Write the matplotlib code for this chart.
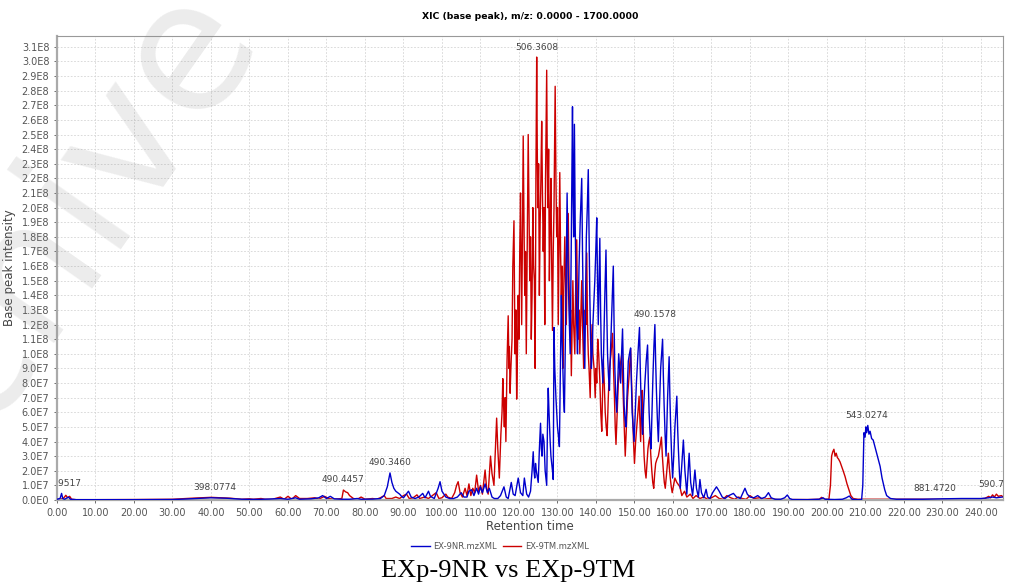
import matplotlib
matplotlib.use("Agg")
import matplotlib.pyplot as plt
from matplotlib.ticker import MultipleLocator, FuncFormatter

# retention time (min) / base peak intensity (x1e7)
nr_time = [0, 0.8, 1.2, 1.5, 2.0, 3.0, 3.5, 5, 10, 20, 30, 33, 36, 40, 44, 48, 52, 55, 58, 60,
           62, 63, 66, 68, 69, 70, 71, 72, 74, 76, 78, 79, 82, 84, 85, 85.8, 86.5, 87, 87.5, 88,
           88.5, 89, 89.5, 90, 91.3, 92, 93, 94, 95, 95.6, 96.5, 97, 98, 99, 99.5, 100, 100.5, 101, 102, 103,
           104, 105, 105.7, 106.5, 107, 107.7, 108.3, 109, 109.5, 110, 110.5, 111.2, 111.8, 112.3, 113, 113.6,
           114.5, 115.2, 116.1, 116.7, 117.2, 118, 118.5, 119, 119.8, 120.4, 121, 121.4, 122, 122.5,
           123.0, 123.4, 123.7, 123.9, 124.1, 124.3, 124.5, 124.8, 125.0, 125.3, 125.6, 125.8, 126.0,
           126.2, 126.5, 126.8, 127.0, 127.2, 127.4, 127.6, 127.8, 128.1, 128.3, 128.5, 128.7, 128.9,
           129.1, 129.3, 129.6, 129.8, 130.0, 130.2, 130.5, 130.7, 131.0, 131.2, 131.4, 131.6, 131.8,
           132.1, 132.5, 132.7, 132.9, 133.1, 133.3, 133.6, 133.9, 134.05, 134.2, 134.4, 134.6, 134.8,
           135.0, 135.2, 135.4, 135.6, 135.9, 136.3, 136.5, 136.7, 136.9, 137.1, 137.3, 137.5, 137.75,
           138.0, 138.2, 138.4, 138.6, 138.8, 139.0, 139.2, 139.45, 139.7, 139.95, 140.2, 140.4, 140.6,
           140.8, 141.0, 141.2, 141.4, 141.6, 141.8, 142.05, 142.3, 142.6, 142.8, 143.0, 143.25, 143.5,
           143.75, 144.0, 144.25, 144.5, 144.7, 144.9, 145.15, 145.4, 145.65, 145.9, 146.15, 146.4,
           146.65, 146.9, 147.1, 147.3, 147.55, 147.8, 148.1, 148.4, 148.7, 149.0, 149.2, 149.4, 149.65,
           149.9, 150.2, 150.5, 150.9, 151.3, 151.5, 151.7, 151.9, 152.1, 152.4, 152.7, 153.05, 153.4,
           153.6, 153.8, 154.05, 154.3, 154.55, 154.8, 155.05, 155.3, 155.5, 155.7, 155.95, 156.2, 156.5,
           156.8, 157.05, 157.3, 157.5, 157.7, 157.95, 158.2, 158.4, 158.6, 158.8, 159.0, 159.2, 159.4,
           159.65, 159.9, 160.2, 160.5, 160.75, 161.0, 161.2, 161.4, 161.65, 161.9, 162.3,
           162.7, 163.1, 163.6, 164.2, 164.6, 165.1, 165.7, 166.1, 166.6, 167.0, 167.4, 168.0, 168.6, 169.0,
           169.6, 170.3, 171.3, 172.0, 172.8, 173.5, 174.5, 175.7, 176.5, 177.5, 178.2, 178.7, 179.3, 180,
           181, 182, 183, 184, 184.8, 185.5, 186.5, 188, 189, 189.7, 190.3, 191, 195, 198, 199, 199.5, 202,
           204, 205, 205.8, 206.5, 208, 209, 209.3, 209.6, 209.9, 210.1, 210.3, 210.6, 210.9, 211.2, 211.6,
           212, 212.4, 212.8, 213.3, 213.8, 214.3, 215, 215.5, 216.5, 218, 225, 230, 235, 240, 242, 243,
           244, 245.5]
nr_int = [0.05, 0.1, 0.45, 0.1, 0.05, 0.2, 0.05, 0.02, 0.02, 0.02, 0.03, 0.06, 0.1, 0.15, 0.12, 0.05,
          0.04, 0.06, 0.1, 0.05, 0.15, 0.05, 0.08, 0.15, 0.3, 0.1, 0.25, 0.08, 0.05, 0.05, 0.1, 0.05,
          0.06, 0.1, 0.3, 0.9, 1.85, 1.2, 0.8, 0.6, 0.5, 0.4, 0.25, 0.15, 0.6, 0.2, 0.1, 0.2, 0.45, 0.15,
          0.6, 0.25, 0.1, 0.8, 1.25, 0.6, 0.4, 0.2, 0.1, 0.1, 0.2, 0.5, 0.2, 0.2, 0.6, 0.7, 0.3, 0.8, 0.4,
          0.9, 0.5, 1.1, 0.5, 0.8, 0.2, 0.1, 0.1, 0.3, 0.9, 0.2, 0.1, 1.2, 0.4, 0.3, 1.5, 0.5, 0.3, 1.5,
          0.4, 0.2,
          0.6, 2.0, 3.3, 2.0, 1.5, 2.5, 2.0, 1.5, 1.2, 3.5, 5.25, 3.5, 3.0,
          4.5, 4.0, 2.0, 1.5, 1.0, 5.0, 7.65, 6.0, 4.0, 3.0, 2.5, 2.0, 1.4,
          11.8, 9.0, 7.0, 6.0, 5.0, 4.5, 3.65, 8.0, 14.0, 11.0, 9.0, 7.0, 6.0,
          12.0, 21.0, 17.0, 14.0, 12.0, 10.0, 18.0, 26.9, 21.0, 18.0, 25.7, 19.0, 15.0,
          12.0, 10.0, 13.0, 16.0, 19.0, 22.0, 17.0, 13.0, 11.0, 9.0, 14.0, 18.0, 20.0,
          22.6, 18.0, 14.0, 11.0, 9.0, 10.0, 12.0, 13.5, 15.0, 17.0, 19.3, 15.0, 12.0,
          15.0, 17.9, 13.0, 10.0, 9.0, 8.0, 11.0, 14.0, 17.1, 13.0, 10.0, 8.5, 7.5,
          10.0, 12.0, 14.0, 16.0, 12.0, 9.0, 7.0, 6.0, 8.0, 10.0, 9.0, 8.0,
          10.0, 11.7, 9.0, 6.5, 5.5, 5.0, 7.5, 9.5, 10.0, 10.4, 8.0, 6.0, 5.0,
          4.0, 6.0, 8.0, 10.0, 11.8, 9.0, 7.0, 5.5, 4.5, 6.5, 8.0, 9.5, 10.6,
          8.0, 6.0, 4.5, 3.5, 6.0, 8.5, 10.5, 12.0, 9.5, 7.5, 5.5, 4.0, 6.5,
          9.0, 10.0, 11.0, 8.5, 6.5, 4.5, 3.0, 5.0, 7.0, 8.5, 9.8, 7.0, 5.0,
          3.0, 1.5, 3.0, 5.0, 6.0, 7.1, 5.0, 3.5, 2.0, 0.8, 2.5,
          4.1, 2.0, 0.4, 3.2, 1.2, 0.3, 2.05, 0.8, 0.2, 1.4, 0.5, 0.15, 0.73, 0.2,
          0.1, 0.5, 0.9, 0.6, 0.2, 0.1, 0.3, 0.45, 0.2, 0.1, 0.5, 0.8, 0.4, 0.2,
          0.15, 0.3, 0.1, 0.2, 0.5, 0.15, 0.05, 0.05, 0.15, 0.34, 0.1, 0.03, 0.02, 0.05, 0.15, 0.05, 0.03,
          0.05, 0.15, 0.27, 0.05, 0.02, 0.03, 1.0, 4.6, 4.3, 5.0, 4.6, 5.1, 4.5, 4.7, 4.2,
          4.1, 3.7, 3.3, 2.8, 2.3, 1.5, 0.7, 0.3, 0.1, 0.05, 0.05, 0.08, 0.1, 0.1, 0.15, 0.2,
          0.15, 0.2]

tm_time = [0, 1, 1.8, 2.3, 2.8, 3.3, 3.8, 5, 10, 20, 30, 35, 40, 45, 48, 50, 51, 53, 54, 56, 58, 59,
           60, 61, 62, 63, 65, 67, 68, 69.5, 70.5, 72, 74, 74.4, 75, 75.5, 76, 76.5, 77, 78, 79, 80, 82,
           83, 84, 85, 85.5, 87, 88, 89, 90, 90.8, 91.5, 92.5, 93.5, 94.2, 95.5, 96.5, 97.5, 98.5, 99.2,
           100, 101, 101.5, 102.5, 103.3, 103.8, 104.2, 104.7, 105.3, 106, 106.5, 107, 107.5, 108, 108.5,
           109, 109.5, 110, 110.5, 111.2, 111.6, 112, 112.6, 113.0, 113.5,
           114.2, 114.5, 114.9, 115.3, 115.6, 115.8, 116.0, 116.2, 116.4, 116.6, 116.9, 117.2, 117.4,
           117.5, 117.7, 117.9, 118.2, 118.4, 118.7, 118.9, 119.0, 119.2, 119.4, 119.6, 119.8, 120.0,
           120.2, 120.4, 120.6, 120.7, 120.9, 121.1, 121.3, 121.5, 121.7, 121.9, 122.1, 122.4, 122.6,
           122.8, 123.0, 123.2, 123.4, 123.6, 123.8, 124.0, 124.2, 124.4, 124.6, 124.75, 124.9, 125.1,
           125.3, 125.5, 125.7, 125.9, 126.1, 126.3, 126.5, 126.7, 126.9, 127.05, 127.2, 127.35, 127.5,
           127.7, 127.9, 128.1, 128.3, 128.5, 128.7, 128.9, 129.1, 129.25, 129.4, 129.6, 129.8, 130.0,
           130.2, 130.4, 130.6, 130.8, 131.0, 131.2, 131.4, 131.6, 131.9, 132.1, 132.3, 132.5, 132.8,
           133.0, 133.2, 133.4, 133.6, 133.8, 134.0, 134.2, 134.5, 134.7, 135.0, 135.2, 135.4, 135.6,
           135.8, 136.0, 136.3, 136.5, 136.8, 137.0, 137.2, 137.4, 137.6, 137.8, 138.0, 138.2, 138.5,
           138.7, 139.0, 139.2, 139.5, 139.8, 140.0, 140.2, 140.45, 140.7, 141.0, 141.25, 141.5, 141.7,
           141.9, 142.15, 142.4, 142.65, 142.9, 143.2, 143.5, 143.9, 144.3, 144.55, 144.8, 145.0, 145.2,
           145.5, 145.8, 146.2, 146.7, 146.95, 147.2, 147.4, 147.6, 147.9, 148.2, 148.6, 149.0, 149.25,
           149.5, 149.75, 150.0, 150.3, 150.6, 150.9, 151.2, 151.4, 151.6, 151.8, 152.0, 152.25, 152.5,
           152.75, 153.0, 153.25, 153.5, 153.75, 154.0, 154.25, 154.5, 154.75, 155.0, 155.25, 155.5,
           155.85, 156.2, 156.6, 157.0, 157.25, 157.5, 157.75, 158.0, 158.4, 158.8, 159.05, 159.3,
           159.55, 159.8, 160.5, 161.0, 161.8, 162.3, 163.0, 163.6, 164.5, 165.2, 166, 167,
           168, 169, 170, 171, 172, 173, 174, 175, 176, 177, 178, 179, 180, 181, 182.5, 183.5, 185, 187,
           190, 195, 198, 198.6, 199.2, 200.5, 200.9, 201.2, 201.5, 201.8, 202.1, 202.4, 202.7, 203,
           203.4, 203.8, 204.2, 204.7, 205.2, 205.7, 206.2, 206.8, 208, 215, 220, 230, 238, 241, 242,
           242.5, 243, 243.5, 244, 244.5, 245.3, 245.8]
tm_int = [0.05, 0.05, 0.15, 0.32, 0.15, 0.25, 0.05, 0.02, 0.02, 0.03, 0.05, 0.12, 0.18, 0.12, 0.05,
          0.08, 0.05, 0.1, 0.05, 0.05, 0.2, 0.05, 0.25, 0.05, 0.3, 0.1, 0.1, 0.15, 0.05, 0.25, 0.1, 0.05,
          0.1, 0.68, 0.55, 0.5, 0.3, 0.2, 0.1, 0.05, 0.2, 0.05, 0.1, 0.05, 0.15, 0.3, 0.1, 0.1, 0.2, 0.1,
          0.3, 0.4, 0.1, 0.15, 0.35, 0.1, 0.2, 0.1, 0.3, 0.5, 0.1, 0.15, 0.4, 0.2, 0.1, 0.5, 1.0, 1.25,
          0.5, 0.2, 0.8, 0.3, 1.1, 0.3, 0.8, 0.5, 1.7, 0.6, 1.0, 0.4, 2.05, 0.8, 0.4, 3.0, 1.8, 1.0,
          5.6, 3.5, 1.5, 4.5, 6.0, 8.3, 6.5, 5.0, 7.0, 4.0, 9.5, 12.6, 9.0,
          10.5, 7.3, 9.0, 11.0, 16.0, 19.1, 12.0, 10.0, 13.0, 6.9, 10.0, 14.0, 11.0,
          17.0, 21.0, 15.0, 12.0, 18.0, 24.9, 19.0, 14.0, 17.0, 10.0, 16.0, 25.0, 20.0,
          15.0, 18.0, 11.0, 14.0, 20.0, 16.0, 15.0, 9.0, 22.0, 30.3, 24.0, 20.0, 23.0,
          14.0, 19.0, 22.0, 25.9, 21.0, 17.0, 20.0, 12.0, 22.0, 26.0, 29.4, 23.0, 20.0,
          24.0, 15.0, 19.0, 22.0, 16.0, 11.6, 17.0, 20.0, 24.0, 28.3, 22.0, 18.0, 20.0,
          12.0, 17.0, 22.4, 17.0, 14.0, 16.0, 9.0, 14.0, 18.0, 15.0, 12.0, 16.0, 19.6,
          15.0, 12.0, 13.0, 8.5, 12.0, 15.0, 12.0, 10.0, 14.0, 17.8, 13.0, 11.0, 13.0,
          10.0, 12.0, 15.0, 12.0, 9.0, 11.0, 13.0, 12.0, 16.9, 12.0, 10.0, 9.0, 7.0,
          10.0, 12.0, 10.0, 9.0, 7.0, 9.0, 8.0, 11.0, 10.0, 8.2, 6.0, 4.7, 7.0,
          9.6, 8.0, 6.0, 5.0, 4.4, 7.0, 9.0, 10.0, 11.4, 9.0, 7.0, 5.0, 3.8,
          6.0, 8.0, 9.0, 10.0, 8.0, 6.0, 4.5, 3.0, 5.0, 7.0, 8.5, 10.3, 8.0,
          6.0, 4.0, 2.5, 4.0, 5.0, 6.0, 7.1, 5.5, 4.0, 6.0, 7.5, 5.0, 3.0,
          2.0, 1.5, 2.5, 3.5, 4.0, 4.3, 3.0, 2.0, 1.2, 0.8, 1.8, 2.5,
          2.8, 3.0, 3.6, 4.3, 3.0, 2.0, 1.2, 0.8, 2.0, 3.2, 2.2, 1.5,
          0.9, 0.5, 1.5, 1.2, 0.9, 0.3, 0.6, 0.2, 0.4, 0.1, 0.3, 0.1,
          0.2, 0.05, 0.15, 0.3, 0.1, 0.05, 0.3, 0.15, 0.05, 0.2, 0.1, 0.05, 0.3, 0.1, 0.15, 0.05, 0.1, 0.03,
          0.03, 0.03, 0.05, 0.18, 0.05, 0.05, 1.0, 3.0, 3.3, 3.47, 3.0, 3.2, 2.9, 2.8,
          2.6, 2.3, 2.0, 1.6, 1.1, 0.7, 0.3, 0.1, 0.05, 0.05, 0.05, 0.05, 0.06, 0.1, 0.25,
          0.15, 0.35, 0.2, 0.4, 0.25, 0.3, 0.2]

# peak annotations: label, time, intensity (x1e7)
peak_labels = ["394.9517", "398.0774", "490.4457", "490.3460", "506.3608", "490.1578",
               "543.0274", "881.4720", "590.7325"]
peak_time = [0.8, 41.0, 74.4, 86.5, 124.6, 155.3, 210.3, 228.0, 244.8]
peak_int = [0.45, 0.15, 0.68, 1.85, 30.3, 12.0, 5.1, 0.1, 0.4]

series_names = ["EX-9NR.mzXML", "EX-9TM.mzXML"]

fig = plt.figure(figsize=(10.1, 5.88), dpi=100)
ax = fig.add_axes([0.0564, 0.1497, 0.9366, 0.7893])

l_tm, = ax.plot(tm_time, [v * 1e7 for v in tm_int], color="#cc0000", lw=1.0, zorder=2)
l_nr, = ax.plot(nr_time, [v * 1e7 for v in nr_int], color="#0000cc", lw=1.0, zorder=3)

for lab, t, v in zip(peak_labels, peak_time, peak_int):
    ax.annotate(lab, (t, v * 1e7), xytext=(0, 4), textcoords="offset points",
                ha="center", va="bottom", fontsize=6.5, color="#444444",
                annotation_clip=False, clip_on=True)

ax.set_xlim(0, 245.7)
ax.set_ylim(0, 3.175e8)
ax.xaxis.set_major_locator(MultipleLocator(10))
ax.yaxis.set_major_locator(MultipleLocator(1e7))
ax.xaxis.set_major_formatter(FuncFormatter(lambda x, p: "%.2f" % x))


def sci(v, p):
    if v == 0:
        return "0.0E0"
    e = len(str(int(round(v)))) - 1
    return "%.1fE%d" % (v / 10 ** e, e)


ax.yaxis.set_major_formatter(FuncFormatter(sci))
ax.tick_params(labelsize=7, colors="#555555", length=2, width=0.6)
ax.grid(True, color="#d4d4d4", lw=0.6, ls=(0, (2, 2)))
ax.set_axisbelow(True)
for s in ax.spines.values():
    s.set_color("#999999")
    s.set_linewidth(0.8)
ax.spines["left"].set_linewidth(1.6)
ax.spines["left"].set_color("#aaaaaa")
ax.spines["bottom"].set_linewidth(1.6)
ax.spines["bottom"].set_color("#aaaaaa")

ax.set_xlabel("Retention time", fontsize=8.5, color="#444444", labelpad=2)
ax.set_ylabel("Base peak intensity", fontsize=8.5, color="#444444", labelpad=4)
fig.text(0.525, 0.972, "XIC (base peak), m/z: 0.0000 - 1700.0000", ha="center", va="center",
         fontsize=6.7, fontweight="bold")

fig.legend([l_nr, l_tm], series_names, loc="center", bbox_to_anchor=(0.495, 0.070), ncol=2,
           frameon=False, fontsize=6, handlelength=2.2, columnspacing=0.8, handletextpad=0.4,
           labelcolor="#555555")

fig.text(0.503, 0.029, "EXp-9NR vs EXp-9TM", ha="center", va="center",
         fontsize=19, family="Liberation Serif")

# faint watermark in the upper left corner
fig.text(0.262, 0.93, "Archive", ha="right", va="baseline", rotation=55,
         rotation_mode="anchor", fontsize=130, color="#888888", alpha=0.16, zorder=10)

fig.savefig("out.png", dpi=100)
